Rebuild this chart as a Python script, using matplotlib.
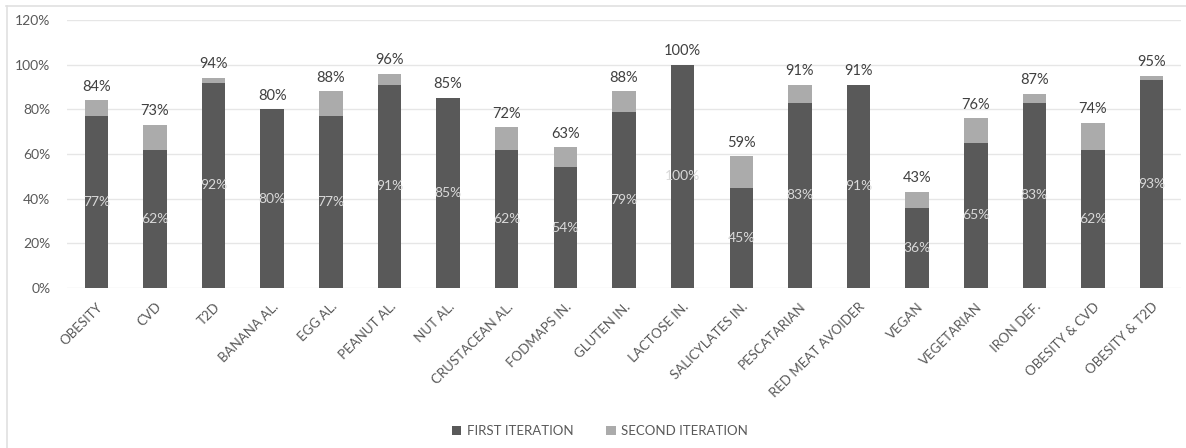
import matplotlib.pyplot as plt
from matplotlib.lines import Line2D
from matplotlib.ticker import PercentFormatter

plt.rcParams['font.family'] = ['Lato', 'DejaVu Sans']

# Categories and completion rates (%)
categories = ['OBESITY', 'CVD', 'T2D', 'BANANA AL.', 'EGG AL.', 'PEANUT AL.',
              'NUT AL.', 'CRUSTACEAN AL.', 'FODMAPS IN.', 'GLUTEN IN.',
              'LACTOSE IN.', 'SALICYLATES IN.', 'PESCATARIAN',
              'RED MEAT AVOIDER', 'VEGAN', 'VEGETARIAN', 'IRON DEF.',
              'OBESITY & CVD', 'OBESITY & T2D']
first_iter = [77, 62, 92, 80, 77, 91, 85, 62, 54, 79, 100, 45, 83, 91, 36, 65, 83, 62, 93]
total = [84, 73, 94, 80, 88, 96, 85, 72, 63, 88, 100, 59, 91, 91, 43, 76, 87, 74, 95]
second_iter = [t - f for t, f in zip(total, first_iter)]

dark = '#595959'
light = '#ababab'
text_col = '#595959'

fig = plt.figure(figsize=(11.86, 4.48), dpi=100)
ax = fig.add_axes([67 / 1186, 1 - 288 / 448, (1181 - 67) / 1186, (288 - 20) / 448])

x = range(len(categories))
width = 0.4
ax.bar(x, first_iter, width, color=dark, label='FIRST ITERATION', zorder=2)
ax.bar(x, second_iter, width, bottom=first_iter, color=light,
       label='SECOND ITERATION', zorder=2)

# value labels: first iteration inside, total above
for i in x:
    ax.text(i, first_iter[i] / 2, f'{first_iter[i]}%', ha='center', va='center',
            color='#d9d9d9', fontsize=10, zorder=3)
    ax.text(i, total[i] + 3, f'{total[i]}%', ha='center', va='bottom',
            color='#404040', fontsize=10.5, zorder=3)

ax.set_xlim(-0.5, 18.5)
ax.set_ylim(0, 120)
ax.set_yticks(range(0, 121, 20))
ax.yaxis.set_major_formatter(PercentFormatter(decimals=0))
ax.grid(axis='y', color='#e6e6e6', linewidth=1, zorder=0)
for s in ax.spines.values():
    s.set_visible(False)
ax.tick_params(length=0, colors=text_col, labelsize=10)
ax.tick_params(axis='y', pad=12)
ax.set_xticks(list(x))
ax.set_xticklabels(categories, rotation=45, ha='right', rotation_mode='anchor',
                   fontsize=9.5)
ax.tick_params(axis='x', pad=9)

leg = fig.legend(loc='center', bbox_to_anchor=(600 / 1186, 1 - 431 / 448),
                 ncol=2, frameon=False, fontsize=9.5, handlelength=0.7,
                 handleheight=0.7, columnspacing=2.5, handletextpad=0.4)
for t in leg.get_texts():
    t.set_color(text_col)

# light outer frame (top and left edges)
fig.add_artist(Line2D([6 / 1186, 1], [1 - 6 / 448, 1 - 6 / 448],
                      transform=fig.transFigure, color='#e0e0e0', lw=1.2))
fig.add_artist(Line2D([7 / 1186, 7 / 1186], [0, 1 - 6 / 448],
                      transform=fig.transFigure, color='#e0e0e0', lw=1.2))

fig.savefig('out.png', dpi=100)
